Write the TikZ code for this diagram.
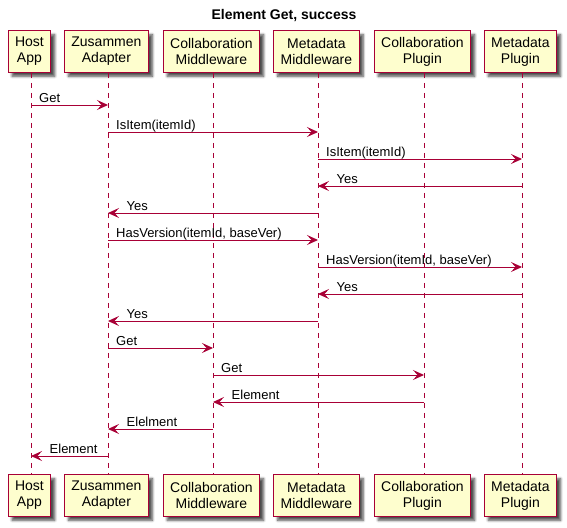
\documentclass[tikz,border=0pt]{standalone}
\usepackage{fontspec}
\setmainfont{Liberation Sans}
\usetikzlibrary{arrows.meta, shadows.blur}
\definecolor{umlred}{HTML}{A80036}
\definecolor{umlbox}{HTML}{FEFECE}

\begin{document}
\begin{tikzpicture}[
        x=1pt, y=-1pt,
        font=\fontsize{13}{15}\selectfont,
        actor/.style = {
            draw=umlred, fill=umlbox, line width=1pt,
            font=\fontsize{14}{16}\selectfont,
            align=center, inner xsep=7pt, inner ysep=0pt,
            minimum height=41.5pt,
            blur shadow={shadow xshift=4pt, shadow yshift=-4pt, shadow blur steps=6,
                shadow blur radius=2.5pt, shadow opacity=70}
        },
        life/.style = {draw=umlred, line width=0.8pt, dash pattern=on 5pt off 5pt},
        msg/.style = {draw=umlred, line width=1pt, -{Stealth[length=11pt, width=10pt, inset=4.5pt]}},
        msglabel/.style = {anchor=base west, inner sep=0pt}
    ]
    \useasboundingbox (0,0) rectangle (567,527);
    \node[font=\bfseries\fontsize{14}{16}\selectfont] (title) at (284,16) {Element Get, success};
    % participants, top and bottom, with their lifelines
    \foreach \name/\x/\txt in {host/31/Host\\App, adapter/108/Zusammen\\Adapter,
        collabMW/213/Collaboration\\Middleware, metaMW/318/Metadata\\Middleware,
        collabPl/424/Collaboration\\Plugin, metaPl/522/Metadata\\Plugin}{
        \coordinate (\name) at (\x,0);
        \node[actor] (\name T) at (\x-1.6,51.5) {\txt};
        \node[actor] (\name B) at (\x-1.6,495.5) {\txt};
        \draw[life] (\name T.south -| \name) -- (\name B.north -| \name);
    }
    % calls
    \foreach \from/\to/\y/\txt [count=\i] in {host/adapter/105/Get,
        adapter/metaMW/132/IsItem(itemId), metaMW/metaPl/159/IsItem(itemId),
        adapter/metaMW/240/HasVersion(itemId{,} baseVer),
        metaMW/metaPl/267/HasVersion(itemId{,} baseVer),
        adapter/collabMW/348/Get, collabMW/collabPl/375/Get}{
        \draw[msg] (\from |- 0,\y) -- (\to |- 0,\y);
        \path (\from |- 0,\y) ++(8,-3) node[msglabel] (call\i) {\txt};
    }
    % replies
    \foreach \from/\to/\y/\txt [count=\i] in {metaPl/metaMW/186/Yes,
        metaMW/adapter/213/Yes, metaPl/metaMW/294/Yes, metaMW/adapter/321/Yes,
        collabPl/collabMW/402/Element, collabMW/adapter/429/Elelment,
        adapter/host/456/Element}{
        \draw[msg] (\from |- 0,\y) -- (\to |- 0,\y);
        \path (\to |- 0,\y) ++(18.5,-3) node[msglabel] (reply\i) {\txt};
    }
\end{tikzpicture}
\end{document}
